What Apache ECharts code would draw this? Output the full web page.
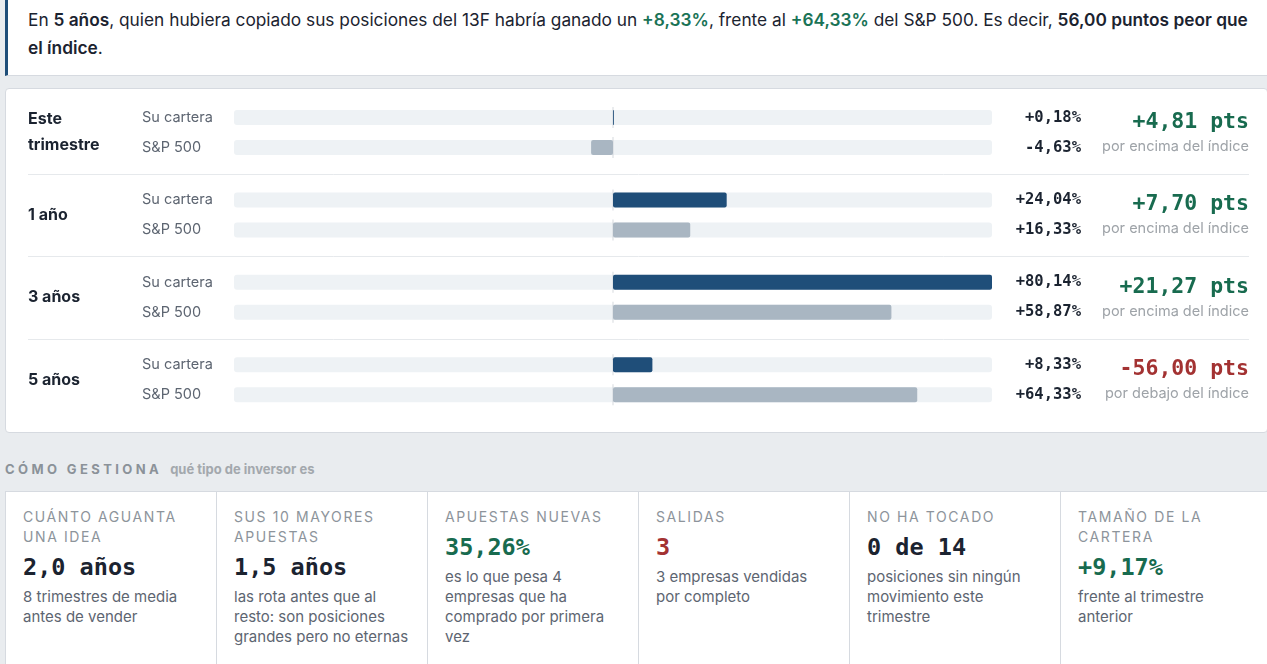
<!DOCTYPE html>
<html lang="es">
<head>
<meta charset="UTF-8">
<title>Rentabilidad frente al S&amp;P 500</title>
<script src="https://cdn.jsdelivr.net/npm/echarts@6/dist/echarts.min.js"></script>
<style>
    html, body { margin: 0; padding: 0; }
    body { width: 1267px; height: 664px; overflow: hidden; background: #e9ecef; position: relative;
        font-family: "Inter", "Roboto", sans-serif; color: #1b2330; }
    .mono { font-family: "DejaVu Sans Mono", monospace; font-weight: bold; }
    .banner { position: absolute; left: 5px; top: 0; width: 1262px; height: 76px; background: #fff;
        border-left: 3px solid #1f4e79; border-bottom: 1px solid #d6dae0; box-sizing: border-box; }
    .banner p { margin: 0; position: absolute; left: 20px; top: 6px; font-size: 17.3px; line-height: 28px; white-space: nowrap; }
    .banner b { font-weight: 600; }
    .banner .up { color: #1a7356; font-weight: 600; }
    .panel { position: absolute; left: 5px; top: 88px; width: 1263px; height: 345px; background: #fff;
        border: 1px solid #d6dae0; border-radius: 4px; box-sizing: border-box; }
    #chart { position: absolute; left: 0; top: 0; width: 1261px; height: 343px; }
    .section { position: absolute; left: 5px; top: 461px; font-size: 13px; font-weight: bold; white-space: nowrap; }
    .section .k { color: #8b9299; letter-spacing: 3.4px; }
    .section .s { color: #a3a8ad; margin-left: 8px; }
    .cards { position: absolute; left: 5px; top: 491px; width: 1270px; height: 180px; display: flex;
        border-top: 1px solid #d6dae0; }
    .card { width: 211px; flex: none; background: #fff; border-left: 1px solid #d6dae0; box-sizing: border-box;
        padding: 15px 12px 0 17px; }
    .card .t { font-size: 14px; line-height: 20px; letter-spacing: 1.6px; color: #8d949b; text-transform: uppercase; }
    .card .v { font-size: 23.5px; line-height: 30px; margin-top: 5px; }
    .card .d { font-size: 15px; line-height: 20px; color: #5d6571; margin-top: 5px; white-space: pre-line; }
</style>
</head>
<body>
    <!--resumen-->
    <div class="banner">
        <p>En <b>5 años</b>, quien hubiera copiado sus posiciones del 13F habría ganado un <span class="up">+8,33%</span>, frente al <span class="up">+64,33%</span> del S&amp;P 500. Es decir, <b>56,00 puntos peor que</b><br><b>el índice</b>.</p>
    </div>
    <!--barras-->
    <div class="panel"><div id="chart"></div></div>
    <!--como gestiona-->
    <div class="section"><span class="k">CÓMO GESTIONA</span><span class="s">qué tipo de inversor es</span></div>
    <div class="cards" id="cards"></div>

<script>
    var periods = ['Este trimestre', '1 año', '3 años', '5 años'];
    var seriesNames = ['Su cartera', 'S&P 500'];
    var portfolio = [0.18, 24.04, 80.14, 8.33];
    var sp500 = [-4.63, 16.33, 58.87, 64.33];
    var diffPts = [4.81, 7.70, 21.27, -56.00];

    var cardTitles = ['Cuánto aguanta una idea', 'Sus 10 mayores apuestas', 'Apuestas nuevas', 'Salidas', 'No ha tocado', 'Tamaño de la cartera'];
    var cardValues = ['2,0 años', '1,5 años', '35,26%', '3', '0 de 14', '+9,17%'];
    var cardTones = ['dark', 'dark', 'up', 'down', 'dark', 'up'];
    var cardNotes = ['8 trimestres de media\nantes de vender', 'las rota antes que al\nresto: son posiciones\ngrandes pero no eternas',
        'es lo que pesa 4\nempresas que ha\ncomprado por primera\nvez', '3 empresas vendidas\npor completo',
        'posiciones sin ningún\nmovimiento este\ntrimestre', 'frente al trimestre\nanterior'];

    var GREEN = '#186b4f', RED = '#a33232', DARK = '#1b2330';

    function fmt(v) {
        return (v >= 0 ? '+' : '') + v.toFixed(2).replace('.', ',') + '%';
    }

    // tarjetas
    var toneColor = { dark: DARK, up: GREEN, down: RED };
    var html = '';
    for (var i = 0; i < cardTitles.length; i++) {
        html += '<div class="card"><div class="t">' + cardTitles[i] + '</div>' +
            '<div class="v mono" style="color:' + toneColor[cardTones[i]] + '">' + cardValues[i] + '</div>' +
            '<div class="d">' + cardNotes[i] + '</div></div>';
    }
    document.getElementById('cards').innerHTML = html;

    var chart = echarts.init(document.getElementById('chart'));
    var maxAbs = Math.max.apply(null, portfolio.concat(sp500).map(Math.abs));

    var gridTop = 13.5, step = 82.4, rowH = 30;
    var grids = [], xAxes = [], yAxes = [], series = [], graphics = [];

    periods.forEach(function (p, g) {
        var top = gridTop + g * step;
        grids.push({ left: 228, width: 758, top: top, height: rowH * 2 });
        xAxes.push({ type: 'value', gridIndex: g, min: -maxAbs, max: maxAbs, show: false });
        yAxes.push({
            type: 'category', gridIndex: g, data: seriesNames, inverse: true,
            axisLine: { show: false }, axisTick: { show: false },
            axisLabel: { margin: 92, align: 'left', fontSize: 14.5, color: '#5d6571', fontFamily: 'Inter' }
        });
        yAxes.push({
            type: 'category', gridIndex: g, position: 'right', inverse: true,
            data: [fmt(portfolio[g]), fmt(sp500[g])],
            axisLine: { show: false }, axisTick: { show: false },
            axisLabel: { margin: 89, align: 'right', fontSize: 15.5, fontWeight: 'bold', color: DARK, fontFamily: 'DejaVu Sans Mono' }
        });
        var ax = { xAxisIndex: g, yAxisIndex: g * 2 };
        // pista de fondo
        series.push(Object.assign({ type: 'bar', silent: true, barWidth: 15, barGap: '-100%', z: 1,
            data: [maxAbs, maxAbs], itemStyle: { color: '#eef2f5', borderRadius: [0, 3, 3, 0] } }, ax));
        series.push(Object.assign({ type: 'bar', silent: true, barWidth: 15, barGap: '-100%', z: 1,
            data: [-maxAbs, -maxAbs], itemStyle: { color: '#eef2f5', borderRadius: [3, 0, 0, 3] } }, ax));
        // linea del cero
        series.push(Object.assign({ type: 'scatter', silent: true, z: 2, symbol: 'rect', symbolSize: [1, 21],
            data: [[0, 0], [0, 1]], itemStyle: { color: '#c9ced4' } }, ax));
        series.push(Object.assign({ type: 'bar', barWidth: 15, barGap: '-100%', z: 3,
            data: [
                { value: portfolio[g], itemStyle: { color: '#1f4e79' } },
                { value: sp500[g], itemStyle: { color: '#a9b6c2' } }
            ],
            itemStyle: { borderRadius: 2 } }, ax));

        var mid = top + rowH;
        graphics.push({
            type: 'text', x: 22, y: mid, style: {
                text: p, width: 100, overflow: 'break', lineHeight: 26, font: 'bold 16px Inter',
                fill: DARK, align: 'left', verticalAlign: 'middle'
            }
        });
        var d = diffPts[g];
        graphics.push({
            type: 'text', x: 1243, y: mid - 10, style: {
                text: (d >= 0 ? '+' : '') + d.toFixed(2).replace('.', ',') + ' pts',
                font: 'bold 21.5px "DejaVu Sans Mono"', fill: d >= 0 ? GREEN : RED, align: 'right', verticalAlign: 'middle'
            }
        });
        graphics.push({
            type: 'text', x: 1243, y: mid + 14, style: {
                text: d >= 0 ? 'por encima del índice' : 'por debajo del índice',
                font: '14.5px Inter', fill: '#9ea3a8', align: 'right', verticalAlign: 'middle'
            }
        });
        if (g > 0) {
            var sy = Math.round(top - 11) + 0.5;
            graphics.push({ type: 'line', shape: { x1: 22, y1: sy, x2: 1243, y2: sy }, style: { stroke: '#e6e9ec', lineWidth: 1 } });
        }
    });

    chart.setOption({
        animation: false,
        grid: grids,
        xAxis: xAxes,
        yAxis: yAxes,
        series: series,
        graphic: graphics
    });
</script>
</body>
</html>
